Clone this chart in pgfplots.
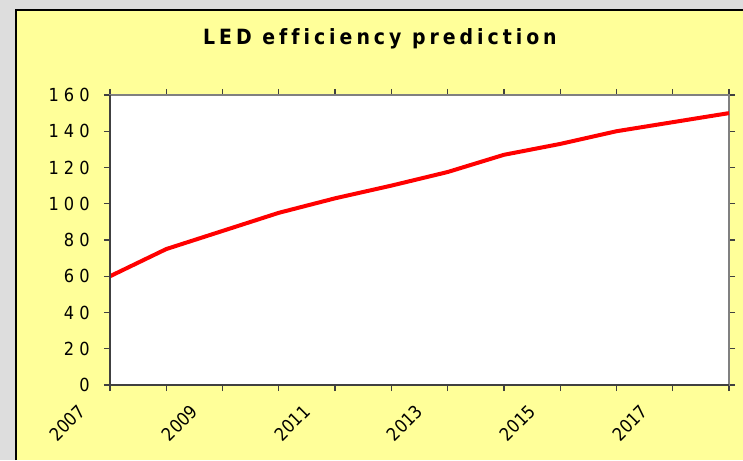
\documentclass[border=0pt]{standalone}
\usepackage{fontspec}
\setmainfont{DejaVu Sans Condensed}
\newfontfamily\ysp[LetterSpace=28]{DejaVu Sans Condensed}
\newfontfamily\tsp[LetterSpace=19, Ligatures=NoCommon]{DejaVu Sans Condensed}
\usepackage{pgfplots}
\pgfplotsset{compat=1.18}
\definecolor{chartbg}{HTML}{FFFF99}
\definecolor{outerbg}{HTML}{DDDDDD}

\begin{document}
\begin{tikzpicture}
  % frame: outer gray, yellow chart area with black edge
  \useasboundingbox (-55pt,-37.5pt) rectangle (316.5pt,192.5pt);
  \fill[outerbg] (-55pt,-37.5pt) rectangle (316.5pt,192.5pt);
  \fill[chartbg] (-47pt,-37.5pt) rectangle (316.5pt,187.5pt);
  \draw[black, line width=0.8pt] (-47pt,-37.5pt) -- (-47pt,187.5pt) -- (316.5pt,187.5pt);

  \begin{axis}[
      at={(0,0)}, anchor=south west,
      scale only axis,
      width=309.5pt, height=145pt,
      xmin=0, xmax=11, ymin=0, ymax=160,
      xtick={0,2,...,10},
      minor xtick={1,3,...,11},
      xticklabels={2007,2009,2011,2013,2015,2017},
      ytick={0,20,...,160},
      yticklabels={0,20,40,60,80,100,120,140,160},
      tick align=outside,
      major tick length=3pt,
      minor tick length=3pt,
      tick style={draw=black!75, line width=0.6pt},
      xticklabel style={xshift=-16.5pt, yshift=-6pt, rotate=45, anchor=north east,
        inner sep=0pt, font=\fontsize{9}{11}\selectfont},
      yticklabel style={anchor=east, inner sep=0pt, xshift=-7pt,
        font=\ysp\fontsize{9}{11}\selectfont},
      axis background/.style={fill=white},
      axis line style={draw=gray, line width=1pt},
      clip=false,
    ]
    \addplot[red, line width=2pt, line join=round] coordinates {
      (0,60) (1,75) (2,85) (3,95) (4,103) (5,110)
      (6,117.5) (7,127) (8,133) (9,140) (10,145) (11,150)
    };
    \draw[black!75, line width=1pt] (rel axis cs:0,1) -- (rel axis cs:0,0) -- (rel axis cs:1,0);
  \end{axis}

  \node[font=\tsp\bfseries\fontsize{10.5}{12}\selectfont, anchor=base]
    at (135pt,170pt) {LED efficiency prediction};
\end{tikzpicture}
\end{document}
